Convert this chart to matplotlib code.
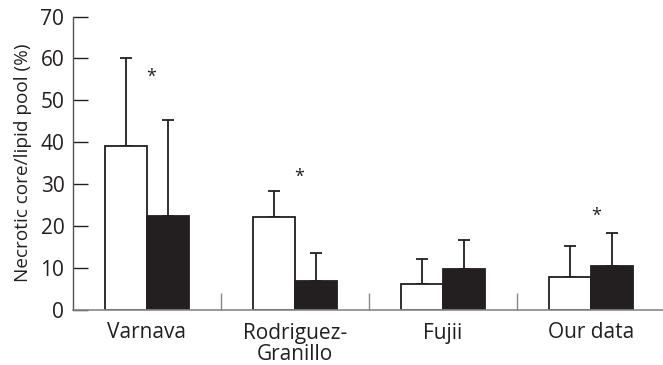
import numpy as np
import matplotlib
matplotlib.use('Agg')
from matplotlib import pyplot as plt

studies = ['Varnava', 'Rodriguez-\nGranillo', 'Fujii', 'Our data']
white_vals = [39.0, 22.2, 6.2, 7.9]
white_err = [21.0, 6.3, 5.9, 7.3]
black_vals = [22.3, 6.8, 9.8, 10.6]
black_err = [23.0, 6.7, 7.0, 7.8]
star_heights = [55.5, 31.7, None, 22.4]

plt.rcParams['font.family'] = ['Open Sans', 'DejaVu Sans']
plt.rcParams['font.size'] = 15

fig = plt.figure(figsize=(6.63, 3.65), dpi=100)
ax = fig.add_axes([72.7 / 663, 55 / 365, 592.6 / 663, 293.5 / 365])

x = np.arange(len(studies))
w = 0.284
ink = '#231f20'

ax.bar(x - w / 2, white_vals, w, color='white', edgecolor=ink, linewidth=1.3, zorder=2)
ax.bar(x + w / 2, black_vals, w, color=ink, edgecolor=ink, linewidth=1.3, zorder=2)
ax.errorbar(x - w / 2, white_vals, yerr=[np.zeros(4), white_err], fmt='none',
            ecolor=ink, elinewidth=1.3, capsize=4, capthick=1.3, zorder=1)
ax.errorbar(x + w / 2, black_vals, yerr=[np.zeros(4), black_err], fmt='none',
            ecolor=ink, elinewidth=1.3, capsize=4, capthick=1.3, zorder=1)

for i, h in enumerate(star_heights):
    if h is not None:
        ax.text(x[i] + 0.03, h, '*', ha='center', va='center', fontsize=13, color=ink)

ax.set_xlim(-0.5, 3.5)
ax.set_ylim(0, 70)
ax.set_yticks(range(0, 71, 10))
ax.set_xticks(x)
ax.set_xticklabels(studies, color=ink, linespacing=1.05)
ax.set_xticks([0.5, 1.5, 2.5], minor=True)
ax.tick_params(axis='x', which='major', length=0, pad=9)
ax.tick_params(axis='x', which='minor', direction='in', length=12, width=1, color='#888888')
ax.tick_params(axis='y', direction='in', length=10.5, width=1, color=ink, labelcolor=ink, pad=6)
ax.set_ylabel('Necrotic core/lipid pool (%)', color=ink, fontsize=13.7, labelpad=6)

for s in ['top', 'right']:
    ax.spines[s].set_visible(False)
ax.spines['left'].set_color('#555555')
ax.spines['bottom'].set_color('#888888')
ax.spines['left'].set_linewidth(1)
ax.spines['bottom'].set_linewidth(1.2)

plt.savefig('out.png', dpi=100)
